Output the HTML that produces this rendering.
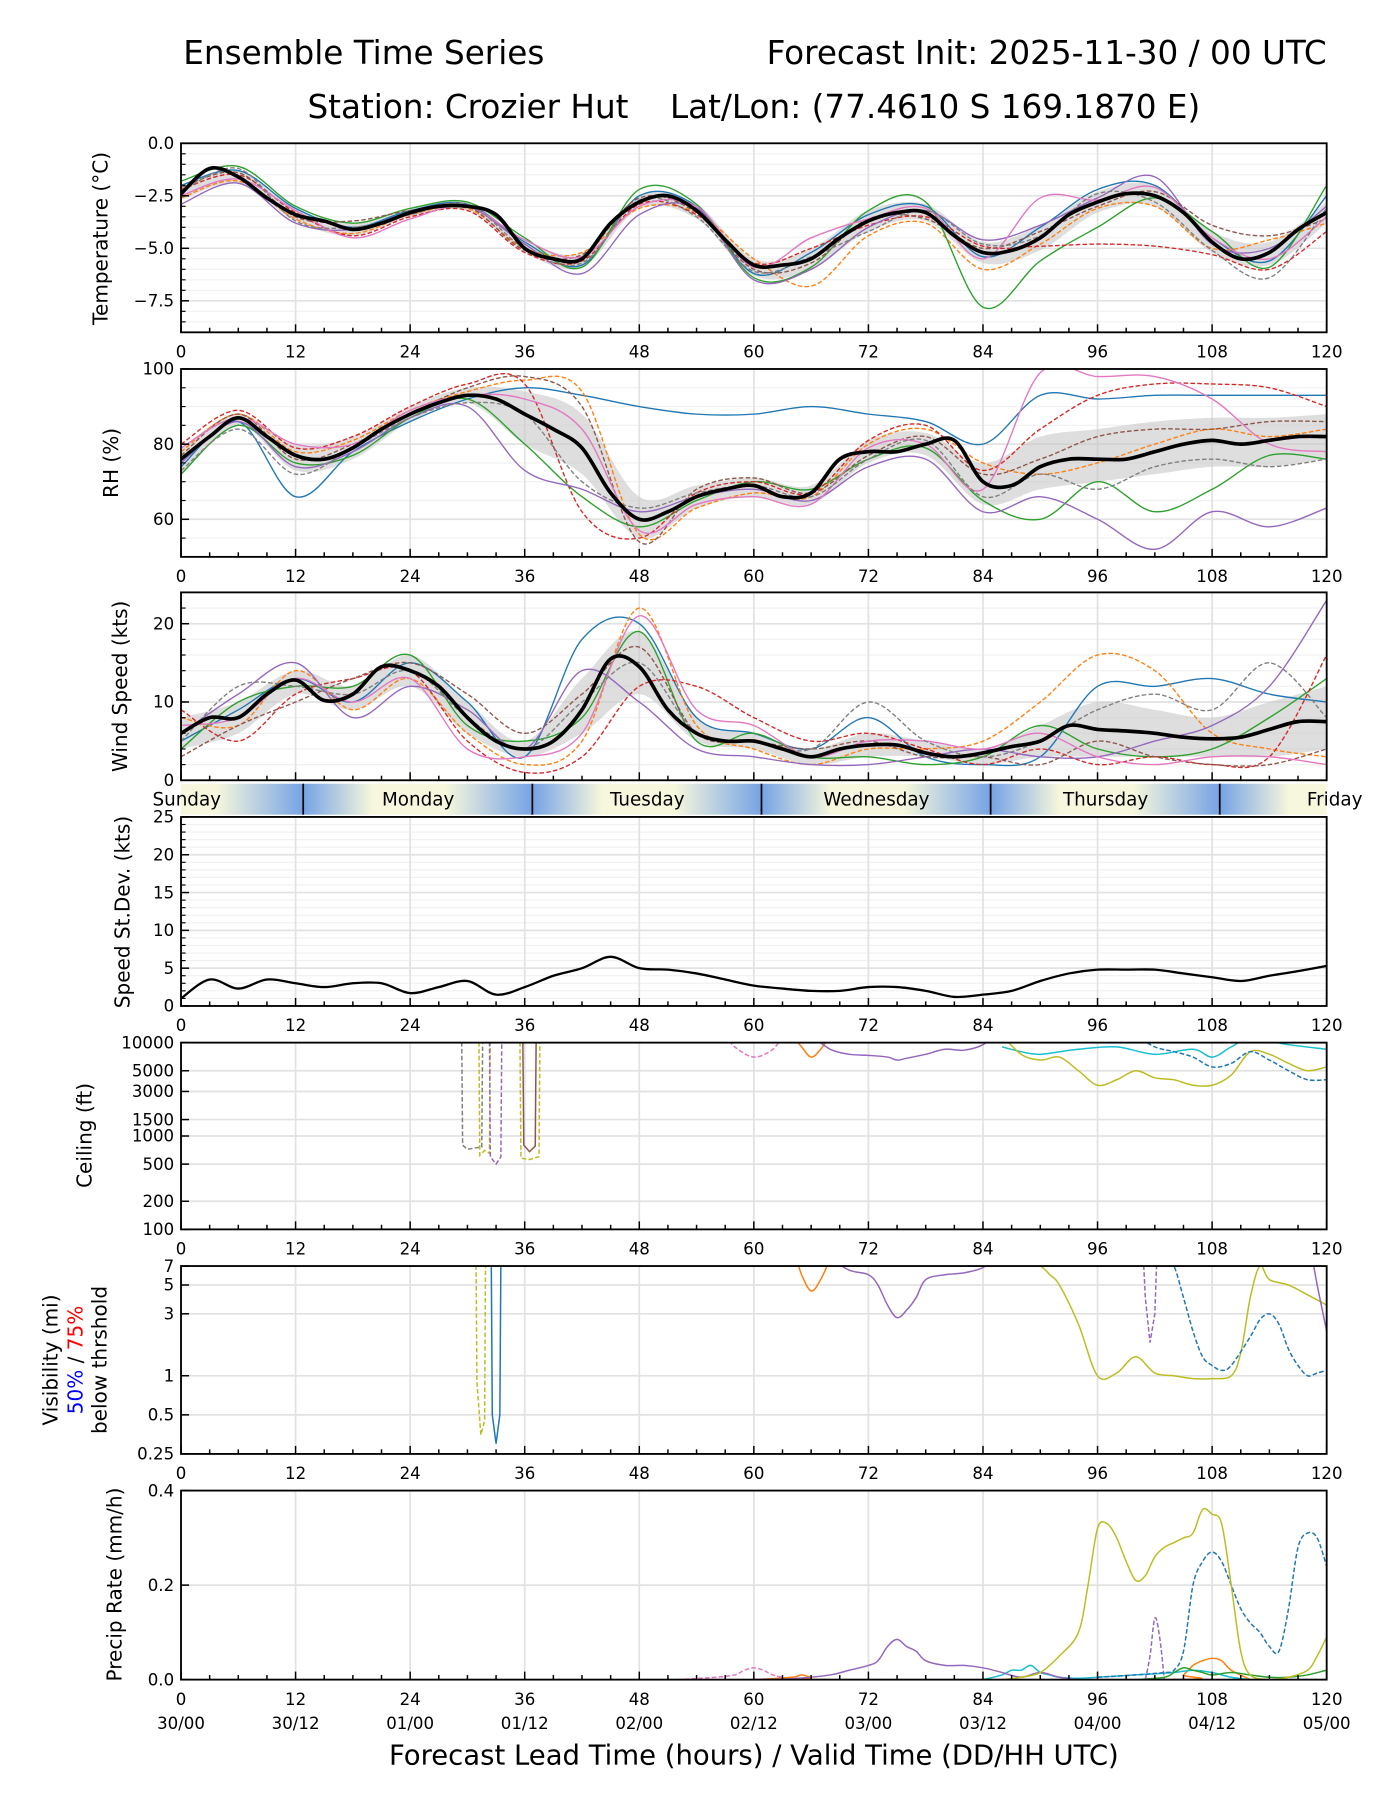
<!DOCTYPE html>
<html><head><meta charset="utf-8"><title>Ensemble Time Series</title>
<style>html,body{margin:0;padding:0;background:#fff}svg{display:block}text{font-family:"DejaVu Sans","Liberation Sans",sans-serif;fill:#000}</style>
</head><body>
<svg id="chart" width="1400" height="1800" viewBox="0 0 1222 1571" xmlns="http://www.w3.org/2000/svg">
<defs>
<linearGradient id="dayGrad" gradientUnits="userSpaceOnUse" x1="265" y1="0" x2="465" y2="0" spreadMethod="repeat">
<stop offset="0" stop-color="#76a3e4"/><stop offset="0.3" stop-color="#f6f7dc"/><stop offset="0.62" stop-color="#f6f7dc"/><stop offset="1" stop-color="#76a3e4"/>
</linearGradient>
</defs>
<text x="160" y="56" font-size="28.5">Ensemble Time Series</text>
<text x="1158" y="56" font-size="28.5" text-anchor="end">Forecast Init: 2025-11-30 / 00 UTC</text>
<text x="658" y="103" font-size="28.5" text-anchor="middle" xml:space="preserve" style="white-space:pre">Station: Crozier Hut    Lat/Lon: (77.4610 S 169.1870 E)</text>
<g id="root"></g>
<text x="658" y="1540" font-size="24" text-anchor="middle">Forecast Lead Time (hours) / Valid Time (DD/HH UTC)</text>
</svg>
<script>
// ---------- data ----------
const hours3 = [0,3,6,9,12,15,18,21,24,27,30,33,36,39,42,45,48,51,54,57,60,63,66,69,72,75,78,81,84,87,90,93,96,99,102,105,108,111,114,117,120];
const hours6 = [0,6,12,18,24,30,36,42,48,54,60,66,72,78,84,90,96,102,108,114,120];
const dayNames = ["Sunday","Monday","Tuesday","Wednesday","Thursday","Friday"];
const validLabels = ["30/00","30/12","01/00","01/12","02/00","02/12","03/00","03/12","04/00","04/12","05/00"];
const tickHours = [0,12,24,36,48,60,72,84,96,108,120];

const tempMean = [-2.4,-1.2,-1.6,-2.6,-3.4,-3.7,-4.1,-3.8,-3.3,-3.0,-3.0,-3.4,-5.0,-5.5,-5.5,-3.8,-2.8,-2.5,-3.2,-4.6,-5.8,-5.8,-5.5,-4.5,-3.7,-3.3,-3.3,-4.4,-5.2,-5.1,-4.5,-3.4,-2.8,-2.4,-2.5,-3.3,-4.7,-5.5,-5.2,-4.1,-3.3];
const tempLo = [-2.7,-1.9,-3.7,-4.4,-3.5,-3.2,-5.2,-5.9,-3.1,-3.6,-6.3,-6.0,-4.2,-3.7,-5.7,-5.1,-3.3,-3.0,-5.2,-5.8,-3.8];
const tempHi = [-2.0,-1.3,-3.1,-3.8,-3.1,-2.8,-4.6,-5.2,-2.5,-2.9,-5.5,-5.0,-3.2,-2.9,-4.7,-3.9,-2.3,-2.0,-4.2,-4.7,-2.8];
const tempM1 = [-2.0,-1.3,-3.1,-4.0,-3.2,-2.9,-4.7,-5.8,-2.5,-3.0,-6.2,-5.2,-3.4,-3.0,-5.4,-4.0,-2.2,-2.0,-4.5,-5.6,-2.5];
const tempM2 = [-2.6,-1.8,-3.6,-4.3,-3.4,-3.1,-5.0,-5.2,-3.1,-3.3,-5.5,-6.8,-4.4,-3.8,-6.0,-4.8,-3.1,-3.0,-5.0,-4.6,-3.8];
const tempM3 = [-1.8,-1.1,-3.0,-3.8,-3.1,-2.8,-4.5,-5.9,-2.2,-2.9,-6.4,-5.9,-3.2,-2.8,-7.8,-5.6,-4.0,-2.6,-4.2,-5.9,-2.0];
const tempM4 = [-2.2,-1.5,-3.3,-4.4,-3.5,-3.2,-5.2,-5.6,-2.9,-3.4,-5.7,-5.0,-3.9,-3.5,-4.9,-4.9,-4.8,-4.9,-5.3,-6.0,-4.2];
const tempM5 = [-2.9,-1.9,-3.8,-4.1,-3.3,-3.0,-4.8,-6.2,-3.4,-3.1,-6.5,-6.0,-4.0,-3.2,-4.6,-3.9,-2.6,-1.6,-4.8,-5.0,-3.0];
const tempM6 = [-2.1,-1.4,-3.5,-3.7,-3.2,-3.0,-5.1,-5.3,-2.6,-3.3,-6.0,-5.7,-3.6,-3.6,-5.0,-4.2,-3.0,-2.3,-3.9,-4.4,-3.6];
const tempM7 = [-2.5,-1.7,-3.2,-4.5,-3.6,-3.0,-4.6,-5.4,-3.0,-3.0,-5.9,-4.5,-3.6,-3.1,-5.5,-2.6,-2.7,-2.1,-4.5,-5.5,-3.5];
const tempM8 = [-2.3,-1.2,-3.7,-4.0,-3.4,-2.9,-5.0,-5.7,-2.7,-3.5,-6.1,-5.4,-4.2,-3.2,-4.8,-4.4,-2.4,-2.8,-5.1,-6.4,-3.1];

const rhMean = [76,82,87,82,77,76,79,84,88,91,93,92,88,84,79,67,60,62,66,68,69,66,67,76,78,78,80,81,70,69,74,76,76,76,78,80,81,80,81,82,82];
const rhLo = [72,85,73,76,86,91,80,72,55,63,66,64,75,77,64,68,70,72,74,74,76];
const rhHi = [79,88,80,82,90,95,94,88,66,69,71,69,81,83,75,82,84,86,87,87,88];
const rhM1 = [74,86,66,78,86,92,95,93,90,88,88,90,88,86,80,93,92,93,93,93,93];
const rhM2 = [78,88,78,81,89,94,97,94,56,63,67,66,80,84,75,72,75,80,84,82,84];
const rhM3 = [72,85,75,77,87,92,80,66,58,65,70,68,76,79,65,60,70,62,68,77,76];
const rhM4 = [80,89,79,82,90,96,96,62,55,67,70,67,81,85,73,84,93,96,96,95,90];
const rhM5 = [75,86,74,78,87,90,73,68,62,66,68,65,74,76,62,66,60,52,62,58,63];
const rhM6 = [77,88,76,80,88,95,98,90,54,68,71,67,77,82,72,76,82,84,84,86,86];
const rhM7 = [79,87,80,80,89,93,92,84,57,64,66,64,79,80,68,99,98,98,92,80,78];
const rhM8 = [73,84,72,79,87,91,88,70,63,67,69,66,76,81,66,72,68,74,76,74,76];

const windMean = [6,8,8,11,12.8,10.2,11,14.5,14,12,8,5,4,5,9,15.5,14.5,9,6,5,5,4,3,4,4.5,4.5,3.5,3,3.5,4.3,5,7,6.5,6.3,6,5.5,5.3,5.5,6.5,7.5,7.5];
const windLo = [4,6,11,9,12,6,3,6,11,5,4,2,3,3,2,3,3,3,3,3,4];
const windHi = [8,10,14,12,16,10,5,13,19,8,6,4,6,5,4,7,10,9,8,10,12];
const windM1 = [5,9,13,10,15,10,3,18,20,8,6,4,8,3,2,3,12,12,13,11,10];
const windM2 = [8,7,14,9,13,6,2,5,22,7,4,2,4,4,5,10,16,14,6,4,3];
const windM3 = [4,10,12,12,16,7,5,8,19,5,6,3,3,2,3,7,4,3,4,8,13];
const windM4 = [9,5,11,13,14,5,1,3,12,12,8,5,6,4,2,4,2,3,2,3,16];
const windM5 = [6,11,15,8,12,9,4,14,10,4,3,2,2,3,4,3,3,5,7,12,23];
const windM6 = [3,7,10,13,15,11,6,11,17,6,5,4,5,3,3,2,5,3,2,2,4];
const windM7 = [7,8,13,10,13,4,3,6,21,9,7,3,5,5,4,6,3,2,3,3,2];
const windM8 = [5,12,12,11,14,8,4,10,15,6,5,4,10,5,3,5,9,11,9,15,8];

const stdevVals = [1,3.5,2.3,3.5,3,2.5,3,3,1.7,2.5,3.3,1.5,2.5,4,5,6.5,5,4.8,4.3,3.5,2.7,2.3,2,2,2.5,2.5,2,1.2,1.5,2,3.3,4.3,4.8,4.8,4.8,4.3,3.8,3.3,4,4.6,5.3];

const ceilGrayH = [29.4,29.5,30,31,31.5,31.6]; const ceilGrayV = [12000,800,720,750,760,12000];
const ceilOliveDH = [31.2,31.3,31.8,32.3,32.4]; const ceilOliveDV = [12000,620,700,650,12000];
const ceilPurpleDH = [32.3,32.4,33,33.5,33.6]; const ceilPurpleDV = [12000,600,500,600,12000];
const ceilBrownH = [35.8,35.9,36.5,37.1,37.2]; const ceilBrownV = [12000,800,680,780,12000];
const ceilOlive2H = [35.5,35.6,36.5,37.5,37.6]; const ceilOlive2V = [12000,580,560,600,12000];
const ceilPinkH = [57,58,60,62,63]; const ceilPinkV = [12000,9000,7000,8500,12000];
const ceilOrangeH = [64,65,66,67,68]; const ceilOrangeV = [12000,9000,7000,8500,12000];
const ceilPurpleH = [66,68,70,72,74,75,76,78,80,82,84,85]; const ceilPurpleV = [12000,8500,7500,7300,7000,6500,6800,7500,8500,8300,9500,12000];
const ceilCyanH = [86,88,90,94,98,102,106,108,110,112,116,120]; const ceilCyanV = [9000,8000,7500,8500,9000,7500,8500,7000,9000,11000,9500,8500];
const ceilOliveH = [86,88,90,92,94,96,98,100,102,104,106,108,110,112,114,116,118,120]; const ceilOliveV = [12000,7500,6500,7000,5000,3500,4000,5000,4200,4000,3500,3500,4500,8000,7500,6000,5000,5500];
const ceilBlueDH = [100,102,104,106,108,110,112,114,116,118,120]; const ceilBlueDV = [12000,9000,8000,7000,5500,6000,8000,6500,5000,4000,4000];

const visOliveDH = [30.9,31.0,31.4,31.8,31.9]; const visOliveDV = [8,0.9,0.35,0.45,8];
const visBlueH = [32.5,32.6,33,33.4,33.5]; const visBlueV = [8,0.5,0.3,0.5,8];
const visOrangeH = [64.5,65,66,67,68]; const visOrangeV = [8,6,4.5,5.5,8];
const visPurpleH = [68,70,72,73,74,75,76,77,78,80,82,84,85]; const visPurpleV = [8,6.5,6,5,3.5,2.8,3.2,4,5.5,6,6.2,6.8,8];
const visOliveH = [88,90,91,92,94,96,98,100,102,104,106,108,110,111,112,113,114,116,118,120]; const visOliveV = [8,7,6,5,2.5,1.0,1.05,1.4,1.05,1.0,0.95,0.95,1.0,1.5,4,7,5.5,5,4.2,3.5];
const visBlueDH = [103,104,105,106,107,108,109,110,112,113,114,115,116,117,118,119,120]; const visBlueDV = [8,7,4,2.2,1.4,1.2,1.1,1.2,2,2.7,3.0,2.5,1.6,1.2,1.0,1.05,1.1];
const visPurpleDH = [100.8,101,101.5,102,102.2]; const visPurpleDV = [8,4,1.8,3,8];
const visPurple2H = [118.5,119,120]; const visPurple2V = [8,5,2.2];

const prOliveH = [86,88,90,92,94,95,96,97,98,99,100,101,102,103,104,105,106,107,108,109,110,111,112,114,116,118,119,120]; const prOliveV = [0,0.005,0.015,0.05,0.1,0.2,0.32,0.33,0.3,0.25,0.21,0.22,0.26,0.28,0.29,0.3,0.31,0.36,0.35,0.33,0.2,0.06,0.01,0.0,0.005,0.02,0.05,0.09];
const prBlueDH = [96,100,103,104,105,106,107,108,109,110,111,112,113,114,115,116,117,118,119,120]; const prBlueDV = [0.005,0.01,0.015,0.02,0.06,0.2,0.25,0.27,0.25,0.2,0.15,0.12,0.1,0.07,0.06,0.15,0.28,0.31,0.3,0.24];
const prPurpleH = [60,64,68,70,72,73,74,75,76,77,78,80,82,84,86,88,90,92,94]; const prPurpleV = [0,0.002,0.01,0.02,0.03,0.04,0.07,0.085,0.07,0.06,0.04,0.03,0.03,0.025,0.015,0.005,0.015,0.005,0];
const prPurpleDH = [101,101.5,102,102.5,103]; const prPurpleDV = [0,0.05,0.13,0.09,0];
const prCyanH = [84,86,87,88,89,90,91,92,94,96,100,104,106,108,110,112]; const prCyanV = [0,0.01,0.02,0.02,0.03,0.015,0.01,0.005,0.003,0.005,0.01,0.015,0.02,0.015,0.005,0];
const prOrangeH = [60,64,65,66,68,104,105,106,107,108,109,110,112]; const prOrangeV = [0,0.005,0.01,0.005,0,0,0.01,0.03,0.04,0.045,0.04,0.02,0];
const prPinkDH = [52,56,58,59,60,61,62,64]; const prPinkDV = [0,0.005,0.01,0.02,0.025,0.02,0.01,0];
const prGreenH = [100,103,104,105,106,107,108,110,112,114,116,118,120]; const prGreenV = [0,0.005,0.015,0.025,0.02,0.015,0.01,0.015,0.01,0.005,0.005,0.01,0.02];

// ---------- rendering ----------
const NS = "http://www.w3.org/2000/svg";
const root = document.getElementById("root");
const XL = 158, XR = 1158;
const X = h => XL + h * (XR - XL) / 120;
const C = ["#1f77b4","#ff7f0e","#2ca02c","#d62728","#9467bd","#8c564b","#e377c2","#7f7f7f","#bcbd22","#17becf"];
function mk(tag, attrs, parent) {
  const e = document.createElementNS(NS, tag);
  for (const k in attrs) e.setAttribute(k, attrs[k]);
  (parent || root).appendChild(e);
  return e;
}
function smoothPath(pts) {
  if (pts.length < 2) return "";
  let d = "M" + pts[0][0].toFixed(1) + "," + pts[0][1].toFixed(1);
  for (let i = 0; i < pts.length - 1; i++) {
    const p0 = pts[i - 1] || pts[i], p1 = pts[i], p2 = pts[i + 1], p3 = pts[i + 2] || p2;
    const c1 = [p1[0] + (p2[0] - p0[0]) / 6, p1[1] + (p2[1] - p0[1]) / 6];
    const c2 = [p2[0] - (p3[0] - p1[0]) / 6, p2[1] - (p3[1] - p1[1]) / 6];
    d += "C" + c1[0].toFixed(1) + "," + c1[1].toFixed(1) + " " + c2[0].toFixed(1) + "," + c2[1].toFixed(1) + " " + p2[0].toFixed(1) + "," + p2[1].toFixed(1);
  }
  return d;
}
function linePath(pts) { return "M" + pts.map(p => p[0].toFixed(1) + "," + p[1].toFixed(1)).join("L"); }

let clipId = 0;
function panel(p) {
  const g = mk("g", {});
  
  
  const cid = "clip" + (clipId++);
  const cp = mk("clipPath", { id: cid }, g);
  mk("rect", { x: XL, y: p.top, width: XR - XL, height: p.bottom - p.top }, cp);
  (p.minor || []).forEach(v => {
    const y = p.Y(v);
    const l = mk("line", { x1: XL, x2: XR, y1: y, y2: y, stroke: "#f0f0f0", "stroke-width": 1 }, g);
    
    
  });
  p.ticks.forEach(v => {
    const y = p.Y(v);
    const l = mk("line", { x1: XL, x2: XR, y1: y, y2: y, stroke: "#e2e2e2", "stroke-width": 1.5 }, g);
    
    
  });
  tickHours.forEach(h => {
    const l = mk("line", { x1: X(h), x2: X(h), y1: p.top, y2: p.bottom, stroke: "#e2e2e2", "stroke-width": 1.5 }, g);
    
    
  });
  const data = mk("g", { "clip-path": "url(#" + cid + ")" }, g);
  
  
  p.draw(data, p.Y);
  const fr = mk("rect", { x: XL, y: p.top, width: XR - XL, height: p.bottom - p.top, fill: "none", stroke: "#000", "stroke-width": 1.6 }, g);
  
  
  for (let h = 0; h <= 120; h += 3) {
    const len = h % 12 === 0 ? 7 : 4;
    mk("line", { x1: X(h), x2: X(h), y1: p.bottom, y2: p.bottom - len, stroke: "#000", "stroke-width": 1.3 }, g);
  }
  if (!p.noXLabels) tickHours.forEach((h, i) => {
    const t = mk("text", { x: X(h), y: p.bottom + 22, "font-size": 14.5, "text-anchor": "middle" }, g);
    t.textContent = String(h);
    
    
    if (p.last) {
      const t2 = mk("text", { x: X(h), y: p.bottom + 43, "font-size": 14.5, "text-anchor": "middle" }, g);
      t2.textContent = validLabels[i];
      
      
    }
  });
  p.ticks.forEach((v, i) => {
    const y = p.Y(v);
    mk("line", { x1: XL, x2: XL + 7, y1: y, y2: y, stroke: "#000", "stroke-width": 1.3 }, g);
    const t = mk("text", { x: XL - 6, y: y + 5, "font-size": 14.5, "text-anchor": "end" }, g);
    t.textContent = p.tickLabels[i];
    
    
  });
  (p.minor || []).forEach(v => {
    const y = p.Y(v);
    mk("line", { x1: XL, x2: XL + 4, y1: y, y2: y, stroke: "#000", "stroke-width": 1 }, g);
  });
  if (p.ylabel) {
    const t = mk("text", { x: p.ylx, y: p.yly, "font-size": 17.5, "text-anchor": "middle", transform: "rotate(-90 " + p.ylx + " " + p.yly + ")" }, g);
    t.textContent = p.ylabel;
    
    
  }
}
function ensemble(g, Y, members, lo, hi, mean) {
  const up = hours6.map((h, i) => [X(h), Y(hi[i])]);
  const dn = hours6.map((h, i) => [X(h), Y(lo[i])]).reverse();
  const band = mk("path", { d: smoothPath(up) + "L" + smoothPath(dn).slice(1) + "Z", fill: "#c8c8c8", "fill-opacity": 0.6 }, g);
  
  
  members.forEach((m, k) => {
    const pts = hours6.map((h, i) => [X(h), Y(m[i])]);
    const attrs = { d: smoothPath(pts), fill: "none", stroke: C[k % 10], "stroke-width": 1.2 };
    if (k % 2 === 1) attrs["stroke-dasharray"] = "4 2";
    const l = mk("path", attrs, g);
    
    
  });
  const ml = mk("path", { d: smoothPath(hours3.map((h, i) => [X(h), Y(mean[i])])), fill: "none", stroke: "#000", "stroke-width": 3.2 }, g);
  
  
}
function series(g, Y, H, V, color, dashed, smooth) {
  const pts = H.map((h, i) => [X(h), Y(V[i])]);
  const attrs = { d: smooth ? smoothPath(pts) : linePath(pts), fill: "none", stroke: color, "stroke-width": 1.3 };
  if (dashed) attrs["stroke-dasharray"] = "4 2";
  const l = mk("path", attrs, g);
  
  
}
function lin(top, bottom, lo, hi) { return v => bottom - (v - lo) / (hi - lo) * (bottom - top); }
function logm(top, bottom, lo, hi) { return v => bottom - (Math.log(v) - Math.log(lo)) / (Math.log(hi) - Math.log(lo)) * (bottom - top); }
function range(a, b, s) { const r = []; for (let v = a; v <= b + 1e-9; v += s) r.push(+v.toFixed(3)); return r; }

panel({ name: "temperature", top: 125, bottom: 290, Y: lin(125, 290, -9, 0), ticks: [0, -2.5, -5, -7.5], tickLabels: ["0.0", "\u22122.5", "\u22125.0", "\u22127.5"], minor: range(-8.5, -0.5, 0.5),
  ylabel: "Temperature (\u00b0C)", ylx: 94, yly: 208,
  draw: (g, Y) => ensemble(g, Y, [tempM1, tempM2, tempM3, tempM4, tempM5, tempM6, tempM7, tempM8], tempLo, tempHi, tempMean) });
panel({ name: "rh", top: 322, bottom: 486, Y: lin(322, 486, 50, 100), ticks: [60, 80, 100], tickLabels: ["60", "80", "100"], minor: range(55, 95, 5),
  ylabel: "RH (%)", ylx: 103, yly: 404,
  draw: (g, Y) => ensemble(g, Y, [rhM1, rhM2, rhM3, rhM4, rhM5, rhM6, rhM7, rhM8], rhLo, rhHi, rhMean) });
panel({ name: "wind", top: 517, bottom: 681, Y: lin(517, 681, 0, 24), ticks: [0, 10, 20], tickLabels: ["0", "10", "20"], minor: range(2, 22, 2), noXLabels: true,
  ylabel: "Wind Speed (kts)", ylx: 111, yly: 599,
  draw: (g, Y) => ensemble(g, Y, [windM1, windM2, windM3, windM4, windM5, windM6, windM7, windM8], windLo, windHi, windMean) });

(function () {
  const g = mk("g", {});
  
  
  mk("rect", { x: XL, y: 684, width: XR - XL, height: 27, fill: "url(#dayGrad)" }, g);
  [12.8, 36.8, 60.8, 84.8, 108.8].forEach(h => mk("line", { x1: X(h), x2: X(h), y1: 684, y2: 711, stroke: "#000", "stroke-width": 1.5 }, g));
  const lx = [163, 365, 565, 765, 965, 1165];
  dayNames.forEach((n, i) => {
    const t = mk("text", { x: lx[i], y: 703, "font-size": 16, "text-anchor": "middle" }, g);
    t.textContent = n;
    
    
  });
})();

panel({ name: "stdev", top: 713, bottom: 878, Y: lin(713, 878, 0, 25), ticks: [0, 5, 10, 15, 20, 25], tickLabels: ["0", "5", "10", "15", "20", "25"], minor: range(1, 24, 1).filter(v => v % 5),
  ylabel: "Speed St.Dev. (kts)", ylx: 113, yly: 796,
  draw: (g, Y) => {
    const l = mk("path", { d: smoothPath(hours3.map((h, i) => [X(h), Y(stdevVals[i])])), fill: "none", stroke: "#000", "stroke-width": 2 }, g);
    
    
  } });

panel({ name: "ceiling", top: 910, bottom: 1073, Y: logm(910, 1073, 100, 10000), ticks: [100, 200, 500, 1000, 1500, 3000, 5000, 10000], tickLabels: ["100", "200", "500", "1000", "1500", "3000", "5000", "10000"],
  ylabel: "Ceiling (ft)", ylx: 80, yly: 991,
  draw: (g, Y) => {
    series(g, Y, ceilGrayH, ceilGrayV, C[7], true, false);
    series(g, Y, ceilOliveDH, ceilOliveDV, C[8], true, false);
    series(g, Y, ceilPurpleDH, ceilPurpleDV, C[4], true, false);
    series(g, Y, ceilOlive2H, ceilOlive2V, C[8], true, false);
    series(g, Y, ceilBrownH, ceilBrownV, C[5], false, false);
    series(g, Y, ceilPinkH, ceilPinkV, C[6], true, true);
    series(g, Y, ceilOrangeH, ceilOrangeV, C[1], false, true);
    series(g, Y, ceilPurpleH, ceilPurpleV, C[4], false, true);
    series(g, Y, ceilCyanH, ceilCyanV, C[9], false, true);
    series(g, Y, ceilOliveH, ceilOliveV, C[8], false, true);
    series(g, Y, ceilBlueDH, ceilBlueDV, C[0], true, true);
  } });

panel({ name: "visibility", top: 1105, bottom: 1269, Y: logm(1105, 1269, 0.25, 7), ticks: [0.25, 0.5, 1, 3, 5, 7], tickLabels: ["0.25", "0.5", "1", "3", "5", "7"],
  draw: (g, Y) => {
    series(g, Y, visOliveDH, visOliveDV, C[8], true, false);
    series(g, Y, visBlueH, visBlueV, C[0], false, false);
    series(g, Y, visOrangeH, visOrangeV, C[1], false, true);
    series(g, Y, visPurpleH, visPurpleV, C[4], false, true);
    series(g, Y, visOliveH, visOliveV, C[8], false, true);
    series(g, Y, visBlueDH, visBlueDV, C[0], true, true);
    series(g, Y, visPurpleDH, visPurpleDV, C[4], true, false);
    series(g, Y, visPurple2H, visPurple2V, C[4], false, false);
  } });
(function () {
  const g = mk("g", {});
  
  
  const t1 = mk("text", { x: 50, y: 1187, "font-size": 17.5, "text-anchor": "middle", transform: "rotate(-90 50 1187)" }, g);
  t1.textContent = "Visibility (mi)";
  const t2 = mk("text", { x: 72, y: 1187, "font-size": 17.5, "text-anchor": "middle", transform: "rotate(-90 72 1187)" }, g);
  const a = mk("tspan", { fill: "#0000ff" }, t2); a.textContent = "50%"; a.style.fill = "#0000ff";
  const b = mk("tspan", {}, t2); b.textContent = " / ";
  const c = mk("tspan", {}, t2); c.textContent = "75%"; c.style.fill = "#ff0000";
  const t3 = mk("text", { x: 93, y: 1187, "font-size": 17.5, "text-anchor": "middle", transform: "rotate(-90 93 1187)" }, g);
  t3.textContent = "below thrshold";
})();

panel({ name: "precip", top: 1301, bottom: 1466, Y: lin(1301, 1466, 0, 0.4), ticks: [0, 0.2, 0.4], tickLabels: ["0.0", "0.2", "0.4"], last: true,
  ylabel: "Precip Rate (mm/h)", ylx: 106, yly: 1383,
  draw: (g, Y) => {
    series(g, Y, prPinkDH, prPinkDV, C[6], true, true);
    series(g, Y, prOrangeH, prOrangeV, C[1], false, true);
    series(g, Y, prCyanH, prCyanV, C[9], false, true);
    series(g, Y, prGreenH, prGreenV, C[2], false, true);
    series(g, Y, prPurpleH, prPurpleV, C[4], false, true);
    series(g, Y, prPurpleDH, prPurpleDV, C[4], true, true);
    series(g, Y, prBlueDH, prBlueDV, C[0], true, true);
    series(g, Y, prOliveH, prOliveV, C[8], false, true);
  } });
</script>
</body></html>
